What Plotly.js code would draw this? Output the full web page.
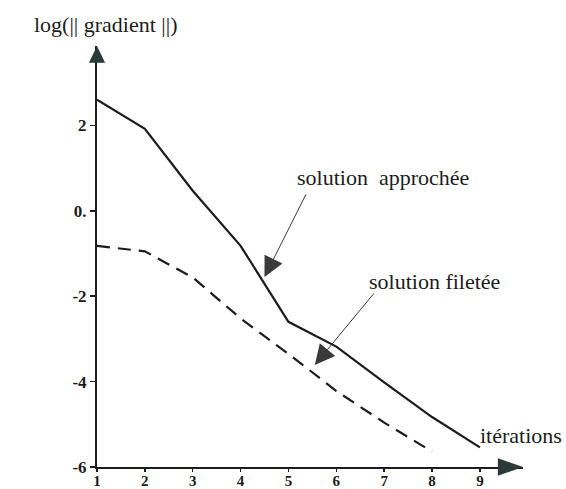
<!DOCTYPE html>
<html>
<head>
<meta charset="utf-8">
<script src="https://cdn.plot.ly/plotly-3.0.1.min.js"></script>
<style>html,body{margin:0;padding:0;background:#fff;}#chart{width:566px;height:489px;}</style>
</head>
<body>
<div id="chart"></div>
<script>
// Data
const iterations = [1, 2, 3, 4, 5, 6, 7, 8, 9];
const approchee = [2.6, 1.92, 0.47, -0.82, -2.6, -3.18, -4.02, -4.83, -5.54];
const iterationsFiletee = [1, 2, 3, 4, 5, 6, 7, 8];
const filetee = [-0.82, -0.95, -1.56, -2.52, -3.35, -4.22, -4.96, -5.64];
const xTickVals = [1, 2, 3, 4, 5, 6, 7, 8, 9];
const yTickVals = [-6, -4, -2, 0, 2];
const yTickText = ['-6', '-4', '-2', '0.', '2'];

const serif = "'Liberation Serif', 'Times New Roman', serif";
const ink = '#1c1c1c';

const traces = [
  {x: iterations, y: approchee, mode: 'lines', line: {color: ink, width: 2.2}, hoverinfo: 'skip'},
  {x: iterationsFiletee, y: filetee, mode: 'lines', line: {color: ink, width: 2.2, dash: '13px,8px'}, hoverinfo: 'skip'}
];

const labelFont = {family: serif, size: 22, color: ink};

const layout = {
  width: 566, height: 489,
  margin: {l: 97, r: 43, t: 46, b: 22},
  paper_bgcolor: '#fff', plot_bgcolor: '#fff',
  showlegend: false,
  xaxis: {
    range: [1, 9.9], tickvals: xTickVals, ticks: 'outside', ticklen: 3, tickwidth: 1.5, tickcolor: ink,
    ticklabelstandoff: -4,
    showline: true, linecolor: ink, linewidth: 2, showgrid: false, zeroline: false,
    tickfont: {family: serif, size: 15, color: ink, weight: 'bold'}
  },
  yaxis: {
    range: [-6, 3.86], tickvals: yTickVals, ticktext: yTickText, ticks: 'outside', ticklen: 5, tickwidth: 1.5, tickcolor: ink,
    showline: true, linecolor: ink, linewidth: 2, showgrid: false, zeroline: false,
    tickfont: {family: serif, size: 17, color: ink, weight: 'bold'}
  },
  shapes: [
    {type: 'path', xref: 'paper', yref: 'paper', path: 'M 0 1 L -0.019 0.96 L 0.019 0.96 Z', fillcolor: '#2a3a36', line: {width: 0}},
    {type: 'path', xref: 'paper', yref: 'paper', path: 'M 1 0 L 0.941 0.021 L 0.941 -0.021 Z', fillcolor: '#2a3a36', line: {width: 0}}
  ],
  annotations: [
    {xref: 'paper', yref: 'paper', x: 0.019, y: 1.05, text: 'log(|| gradient ||)', showarrow: false, xanchor: 'center', yanchor: 'middle', font: labelFont},
    {xref: 'paper', yref: 'paper', x: 0.894, y: 0.076, text: 'itérations', showarrow: false, xanchor: 'left', yanchor: 'middle', font: labelFont},
    {xref: 'paper', yref: 'paper', x: 0.671, y: 0.687, text: 'solution  approchée', showarrow: false, xanchor: 'center', yanchor: 'middle', font: labelFont},
    {xref: 'paper', yref: 'paper', x: 0.793, y: 0.441, text: 'solution filetée', showarrow: false, xanchor: 'center', yanchor: 'middle', font: labelFont},
    {x: 4.5, y: -1.55, ax: 5.38, ay: 0.42, xref: 'x', yref: 'y', axref: 'x', ayref: 'y', text: '', showarrow: true, arrowhead: 2, arrowsize: 4, arrowwidth: 1, arrowcolor: '#3a3a3a'},
    {x: 5.55, y: -3.61, ax: 6.81, ay: -1.9, xref: 'x', yref: 'y', axref: 'x', ayref: 'y', text: '', showarrow: true, arrowhead: 2, arrowsize: 4, arrowwidth: 1, arrowcolor: '#3a3a3a'}
  ]
};

Plotly.newPlot('chart', traces, layout, {displayModeBar: false, staticPlot: true});
</script>
</body>
</html>
